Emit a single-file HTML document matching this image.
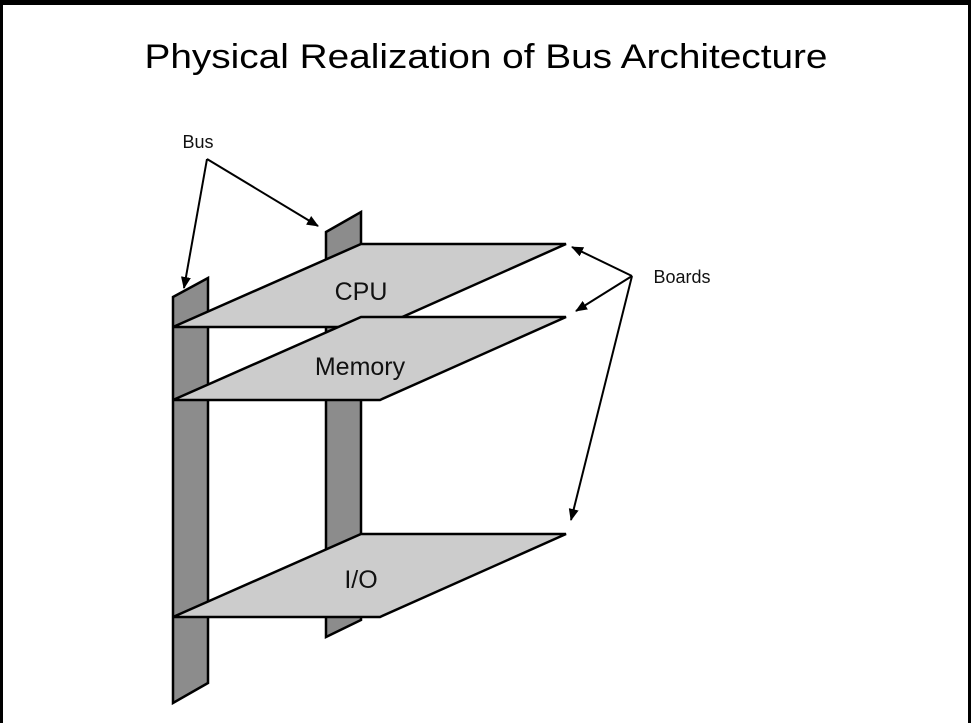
<!DOCTYPE html>
<html><head><meta charset="utf-8"><style>
html,body{margin:0;padding:0;background:#fff;}
svg{display:block;}
</style></head><body>
<svg width="971" height="723" viewBox="0 0 971 723" xmlns="http://www.w3.org/2000/svg">
<defs>
<marker id="ah" markerWidth="12" markerHeight="10" refX="11" refY="5" orient="auto" markerUnits="userSpaceOnUse">
<path d="M0,0 L12,5 L0,10 Z" fill="#000"/>
</marker>
</defs>
<rect x="0" y="0" width="971" height="723" fill="#fff"/>
<rect x="0" y="0" width="971" height="5" fill="#000"/>
<rect x="0" y="0" width="3" height="723" fill="#000"/>
<rect x="968" y="0" width="3" height="723" fill="#000"/>
<text x="486" y="68" text-anchor="middle" font-family="Liberation Sans, sans-serif" font-size="34" textLength="683" lengthAdjust="spacingAndGlyphs" fill="#000">Physical Realization of Bus Architecture</text>
<g stroke="#000" stroke-width="2.5" stroke-linejoin="miter">
<polygon points="326,232 361,212 361,620 326,637" fill="#8c8c8c"/>
<polygon points="173,297 208,278 208,683 173,703" fill="#8c8c8c"/>
<polygon points="173,327 380,327 566,244 361,244" fill="#cccccc"/>
<polygon points="173,400 380,400 566,317 361,317" fill="#cccccc"/>
<polygon points="173,617 380,617 566,534 361,534" fill="#cccccc"/>
</g>
<g font-family="Liberation Sans, sans-serif" fill="#111" text-anchor="middle">
<text x="361" y="300" font-size="25">CPU</text>
<text x="360" y="375" font-size="25">Memory</text>
<text x="361" y="588" font-size="25">I/O</text>
<text x="198" y="148" font-size="18">Bus</text>
<text x="682" y="283" font-size="18">Boards</text>
</g>
<g stroke="#000" stroke-width="2" fill="none" marker-end="url(#ah)">
<line x1="207" y1="159" x2="184" y2="288"/>
<line x1="207" y1="159" x2="318" y2="226"/>
<line x1="632" y1="276" x2="572" y2="247"/>
<line x1="632" y1="276" x2="576" y2="311"/>
<line x1="632" y1="276" x2="571" y2="520"/>
</g>
</svg>
</body></html>
